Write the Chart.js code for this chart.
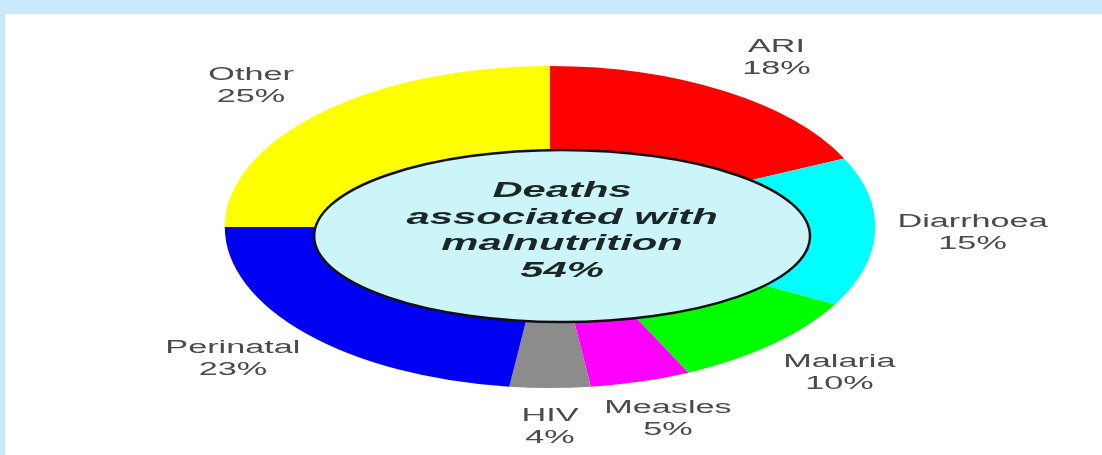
<!DOCTYPE html>
<html>
<head>
<meta charset="utf-8">
<script src="https://cdn.jsdelivr.net/npm/chart.js@4.4.1/dist/chart.umd.min.js"></script>
<style>
  html, body { margin: 0; padding: 0; }
  body { width: 1102px; height: 455px; background: #cce9fb; position: relative; overflow: hidden; }
  #panel { position: absolute; left: 5px; top: 14px; right: 0; bottom: 0; background: #fff; }
  #wrap { position: absolute; left: 0; top: 0; width: 1102px; height: 455px; }
</style>
</head>
<body>
<div id="panel"></div>
<div id="wrap"><canvas id="chart" width="1102" height="455"></canvas></div>
<script>
// ── Data ──
const causes = ['ARI', 'Diarrhoea', 'Malaria', 'Measles', 'HIV', 'Perinatal', 'Other'];
const shares = [18, 15, 10, 5, 4, 23, 25];
const sliceColors = ['#ff0000', '#00ffff', '#00ff00', '#ff00ff', '#8c8c8c', '#0000f2', '#ffff00'];
const centerLines = ['Deaths', 'associated with', 'malnutrition', '54%'];

// look & feel
const SQUASH = 2.02;       // pie is drawn wider than tall
const TEXT_STRETCH = 1.9;  // text in the picture is stretched horizontally
const LABEL_FONT = '18px "Liberation Sans", Arial, sans-serif';
const CENTER_FONT = 'italic bold 22px "Liberation Sans", Arial, sans-serif';

function stretchedText(ctx, text, x, y) {
    ctx.save();
    ctx.translate(x, y);
    ctx.scale(TEXT_STRETCH, 1);
    ctx.fillText(text, 0, 0);
    ctx.restore();
}

// squash the pie into an ellipse, labels and centre drawn afterwards unscaled
const ellipsePie = {
    id: 'ellipsePie',
    beforeDatasetsDraw(chart) {
        const arc = chart.getDatasetMeta(0).data[0];
        const ctx = chart.ctx;
        ctx.save();
        ctx.translate(arc.x, arc.y);
        ctx.scale(SQUASH, 1);
        ctx.translate(-arc.x, -arc.y);
    },
    afterDatasetsDraw(chart) {
        const ctx = chart.ctx;
        ctx.restore();

        const meta = chart.getDatasetMeta(0);
        const arc0 = meta.data[0];
        const cx = arc0.x, cy = arc0.y, r = arc0.outerRadius;

        // centre ellipse
        const ex = cx + 0.075 * r, ey = cy + 0.056 * r;
        ctx.save();
        ctx.beginPath();
        ctx.ellipse(ex, ey, 1.54 * r, 0.534 * r, 0, 0, Math.PI * 2);
        ctx.fillStyle = '#cbf5f9';
        ctx.fill();
        ctx.lineWidth = 2.5;
        ctx.strokeStyle = '#111';
        ctx.stroke();

        ctx.fillStyle = '#1c2626';
        ctx.font = CENTER_FONT;
        ctx.textAlign = 'center';
        ctx.textBaseline = 'middle';
        centerLines.forEach((line, i) => {
            stretchedText(ctx, line, ex, ey - 5 + (i - 1.5) * 26.5);
        });

        // outside labels
        ctx.font = LABEL_FONT;
        ctx.fillStyle = '#4a4a4a';
        meta.data.forEach((arc, i) => {
            const mid = (arc.startAngle + arc.endAngle) / 2;
            const lx = cx + Math.cos(mid) * r * SQUASH * 1.3;
            const ly = cy + Math.sin(mid) * r * 1.24;
            stretchedText(ctx, causes[i], lx, ly - 11);
            stretchedText(ctx, shares[i] + '%', lx, ly + 11);
        });
        ctx.restore();
    }
};

new Chart(document.getElementById('chart'), {
    type: 'pie',
    data: {
        labels: causes,
        datasets: [{
            data: shares,
            backgroundColor: sliceColors,
            borderWidth: 0,
        }]
    },
    options: {
        responsive: false,
        animation: false,
        devicePixelRatio: 1,
        layout: { padding: { top: 66, bottom: 67, left: 300, right: 302 } },
        plugins: {
            legend: { display: false },
            tooltip: { enabled: false },
        },
    },
    plugins: [ellipsePie],
});
</script>
</body>
</html>
